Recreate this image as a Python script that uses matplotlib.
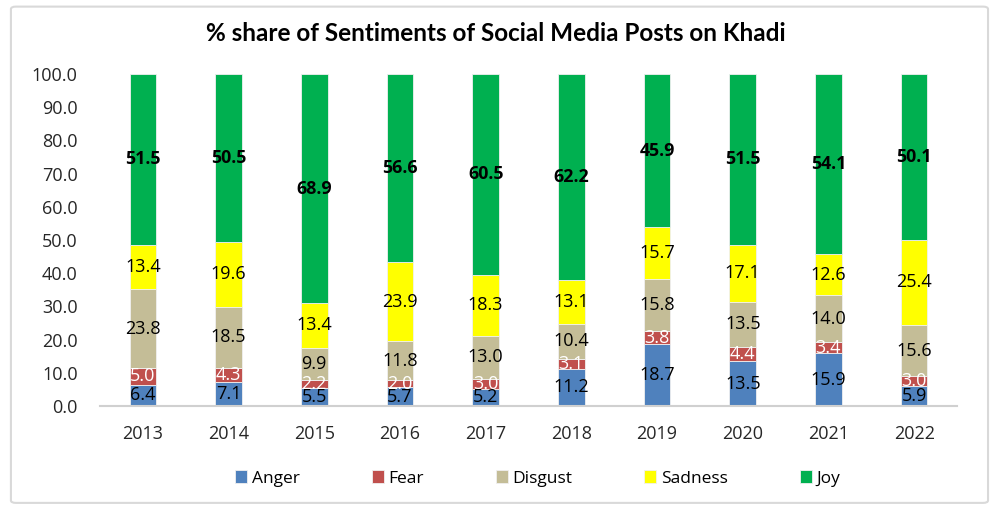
import numpy as np
import matplotlib.pyplot as plt
from matplotlib.patches import FancyBboxPatch

# Datos: % de sentimientos por año
years = ['2013', '2014', '2015', '2016', '2017', '2018', '2019', '2020', '2021', '2022']
anger = [6.4, 7.1, 5.5, 5.7, 5.2, 11.2, 18.7, 13.5, 15.9, 5.9]
fear = [5.0, 4.3, 2.2, 2.0, 3.0, 3.1, 3.8, 4.4, 3.4, 3.0]
disgust = [23.8, 18.5, 9.9, 11.8, 13.0, 10.4, 15.8, 13.5, 14.0, 15.6]
sadness = [13.4, 19.6, 13.4, 23.9, 18.3, 13.1, 15.7, 17.1, 12.6, 25.4]
joy = [51.5, 50.5, 68.9, 56.6, 60.5, 62.2, 45.9, 51.5, 54.1, 50.1]

series = ['Anger', 'Fear', 'Disgust', 'Sadness', 'Joy']
values = [anger, fear, disgust, sadness, joy]
colors = ['#4F81BD', '#C0504D', '#C4BD97', '#FFFF00', '#00B050']
label_colors = ['black', 'white', 'black', 'black', 'black']
label_weights = ['normal', 'normal', 'normal', 'normal', 'bold']
label_sizes = [13, 13, 13, 13, 12.8]

plt.rcParams['font.family'] = ['Open Sans', 'DejaVu Sans']

fig = plt.figure(figsize=(9.92, 5.09), dpi=100)
ax = fig.add_axes([0.1008, 0.2024, 0.8639, 0.6522])

x = np.arange(len(years))
bottom = np.zeros(len(years))
for name, vals, col, lc, lw, fs in zip(series, values, colors, label_colors, label_weights, label_sizes):
    vals = np.array(vals)
    bars = ax.bar(x, vals, 0.31, bottom=bottom, color=col, label=name,
                  edgecolor='#f0f0f0', linewidth=0.6)
    ax.bar_label(bars, labels=[f'{v:.1f}' for v in vals], label_type='center',
                 color=lc, fontweight=lw, fontsize=fs)
    bottom += vals

ax.set_xlim(-0.5, len(years) - 0.5)
ax.set_ylim(0, 100)
ax.set_yticks(np.arange(0, 101, 10))
ax.set_yticklabels([f'{t:.1f}' for t in np.arange(0, 101, 10)])
ax.set_xticks(x)
ax.set_xticklabels(years)
ax.tick_params(axis='both', length=0, labelsize=13, colors='#262626')
ax.tick_params(axis='x', pad=14)
ax.tick_params(axis='y', pad=16)
for s in ['top', 'right', 'left']:
    ax.spines[s].set_visible(False)
ax.spines['bottom'].set_color('#d0d0d0')
ax.spines['bottom'].set_linewidth(1.5)

fig.text(0.5, 0.935, '% share of Sentiments of Social Media Posts on Khadi',
         ha='center', va='center', fontsize=17.5, fontweight='bold',
         family=['Lato', 'DejaVu Sans'])

fig.legend(loc='center', bbox_to_anchor=(0.542, 0.06), ncol=5, frameon=False,
           handlelength=0.7, handleheight=0.7, handletextpad=0.25,
           columnspacing=4.15, fontsize=12.5)

# borde gris del gráfico
border = FancyBboxPatch((0.011, 0.012), 0.985, 0.975, boxstyle='round,pad=0,rounding_size=0.005',
                        transform=fig.transFigure, fill=False, edgecolor='#d9d9d9', linewidth=1.5)
fig.patches.append(border)

fig.savefig('out.png', dpi=100)
